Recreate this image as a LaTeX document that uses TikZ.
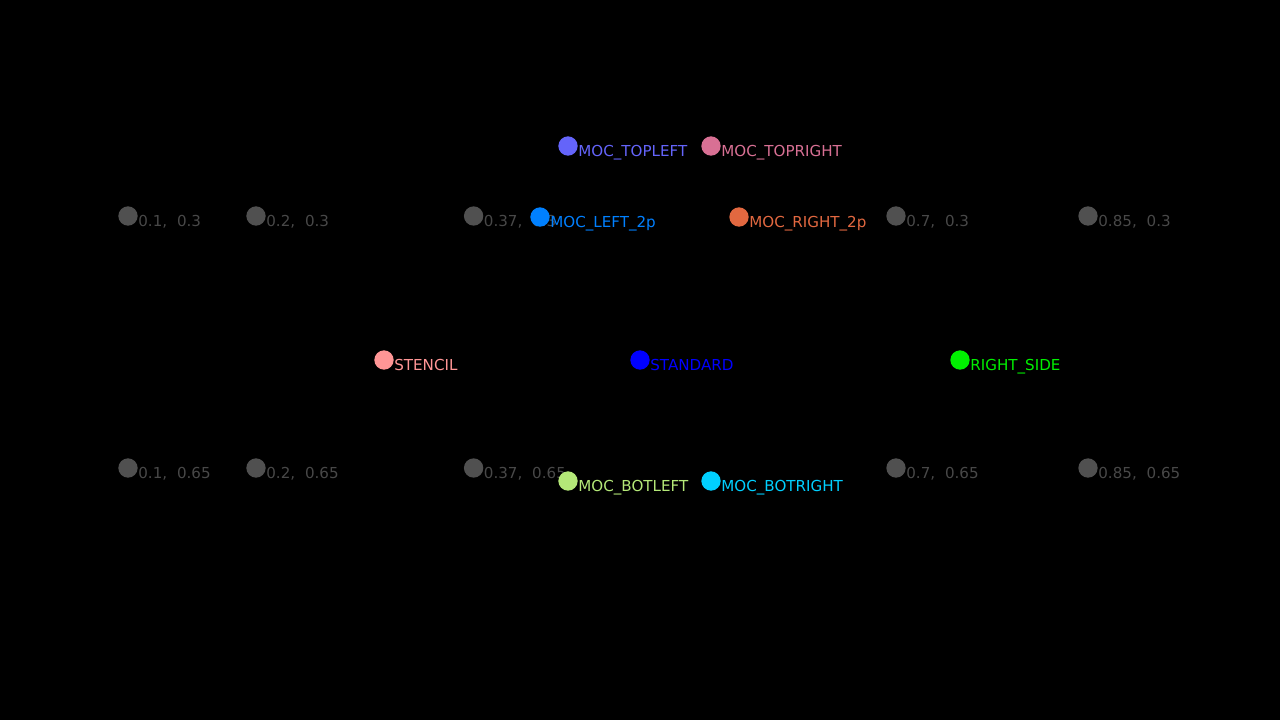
\documentclass[tikz,border=0pt]{standalone}
\usepackage{fontspec}
\setmainfont{DejaVu Sans}
\usetikzlibrary{positioning}
\definecolor{gridgray}{RGB}{80,80,80}
\definecolor{gridtext}{RGB}{72,72,72}
\definecolor{mocTL}{RGB}{100,100,250}
\definecolor{mocTR}{RGB}{216,112,148}
\definecolor{mocLtwo}{RGB}{0,128,255}
\definecolor{mocRtwo}{RGB}{226,104,64}
\definecolor{stencil}{RGB}{255,150,150}
\definecolor{standard}{RGB}{0,0,255}
\definecolor{rightside}{RGB}{0,240,0}
\definecolor{mocBL}{RGB}{180,232,120}
\definecolor{mocBR}{RGB}{0,208,255}

\begin{document}
\begin{tikzpicture}[
  x=0.02cm, y=-0.02cm,
  dot/.style={circle, fill=#1, draw=none, inner sep=0pt, minimum size=11pt},
  tag/.style={anchor=base west, inner sep=0pt, text=#1, font=\fontsize{8.6}{10}\selectfont},
]
\fill[black] (0,0) rectangle (1280,720);

%% Reference grid
\foreach \px/\lx [count=\i] in {128/0.1, 256/0.2, 473.6/0.37, 896/0.7, 1088/0.85}{
  \foreach \py/\ly [count=\j] in {216/0.3, 468/0.65}{
    \node[dot=gridgray] (g\i\j) at (\px,\py) {};
    \node[tag=gridtext] (gt\i\j) at ([xshift=5.7pt, yshift=-6pt]g\i\j.center) {\lx,\hspace{0.65em}\ly};
  }
}

%% Named positions
\foreach \px/\py/\col/\name in {
    568/146/mocTL/MOC\_TOPLEFT,
    711/146/mocTR/MOC\_TOPRIGHT,
    540/217/mocLtwo/MOC\_LEFT\_2p,
    739/217/mocRtwo/MOC\_RIGHT\_2p,
    384/360/stencil/STENCIL,
    640/360/standard/STANDARD,
    960/360/rightside/RIGHT\_SIDE,
    568/481/mocBL/MOC\_BOTLEFT,
    711/481/mocBR/MOC\_BOTRIGHT}{
  \node[dot=\col] (p-\col) at (\px,\py) {};
  \node[tag=\col] (pt-\col) at ([xshift=5.7pt, yshift=-6pt]p-\col.center) {\name};
}
\end{tikzpicture}
\end{document}
